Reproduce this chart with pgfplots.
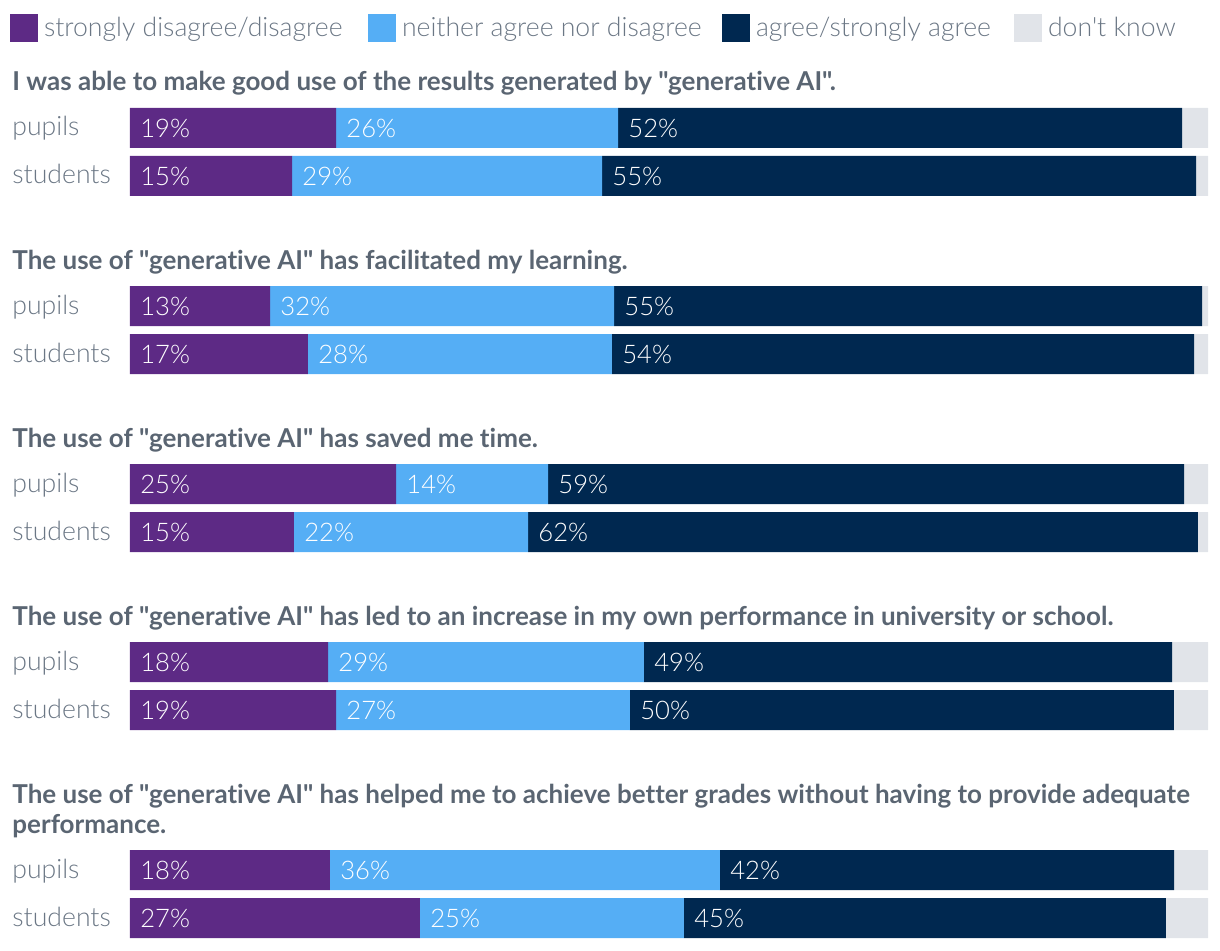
\documentclass[border=0pt]{standalone}
\usepackage{pgfplots}
\pgfplotsset{compat=1.18}
\usepackage{pgfplotstable}
\usepackage{fontspec}
\newfontfamily\regf{Lato Light}[Ligatures=NoCommon]
\newfontfamily\boldf{Lato Bold}[Ligatures=NoCommon]
\definecolor{cSD}{HTML}{5D2A85}
\definecolor{cNE}{HTML}{55AEF5}
\definecolor{cAG}{HTML}{002850}
\definecolor{cDK}{HTML}{E1E4E9}
\definecolor{cTitle}{HTML}{5A6572}
\definecolor{cLab}{HTML}{6B7785}
\pgfplotstableread{
y sd ne ag dk lsd lne lag
-128 19.11 26.16 52.32 2.41 19 26 52
-176 15.03 28.76 55.10 1.11 15 29 55
-306 12.99 31.91 54.55 0.55 13 32 55
-354 16.51 28.20 53.99 1.30 17 28 54
-484 24.68 14.10 59.00 2.22 25 14 59
-532 15.21 21.71 62.15 0.93 15 22 62
-662 18.37 29.31 48.98 3.34 18 29 49
-710 19.11 27.27 50.46 3.16 19 27 50
-870 18.55 36.18 42.12 3.15 18 36 42
-918 26.90 24.49 44.71 3.90 27 25 45
}\datatable
\newcommand\labfont{\regf\fontsize{13.3}{16}\selectfont}
\newcommand\pctfont{\regf\fontsize{12.8}{15}\selectfont}
\newcommand\titfont{\boldf\fontsize{13}{16}\selectfont}
\tikzset{
  ttl/.style={anchor=base west, inner sep=0pt, font=\titfont, text=cTitle},
  grp/.style={anchor=base west, inner sep=0pt, font=\labfont, text=cLab},
}
\pgfplotsset{
  frame/.style={at={(0pt,0pt)}, anchor=south west,
    scale only axis, width=539pt, height=475pt,
    xmin=0, xmax=100, ymin=-950, ymax=0,
    hide axis, clip=false},
  pct/.style={draw=none, mark=none, nodes near coords={\pgfplotspointmeta\%},
    point meta=explicit symbolic,
    every node near coord/.append style={anchor=west, xshift=5pt, inner sep=0pt,
      text=white, font=\pctfont}},
}
\begin{document}
\begin{tikzpicture}
\useasboundingbox (-65pt,0pt) rectangle (545pt,475pt);
\begin{axis}[
  frame,
  xbar stacked, bar width=20pt,
  legend columns=-1,
  legend cell align=left,
  legend image code/.code={\fill[#1] (0pt,-7pt) rectangle (14pt,7pt);},
  legend style={at={(-0.111317,0.970526)}, anchor=west, draw=none, fill=none,
    inner sep=0pt, outer sep=0pt, font=\labfont, text=cLab,
    nodes={inner sep=0pt},
    /tikz/every odd column/.append style={column sep=3pt}},
]
\addplot[draw=none, fill=cSD] table[x=sd, y=y]{\datatable};
\addlegendentry{\makebox[162pt][l]{strongly disagree/disagree}}
\addplot[draw=none, fill=cNE] table[x=ne, y=y]{\datatable};
\addlegendentry{\makebox[160pt][l]{neither agree nor disagree}}
\addplot[draw=none, fill=cAG] table[x=ag, y=y]{\datatable};
\addlegendentry{\makebox[129pt][l]{agree/strongly agree}}
\addplot[draw=none, fill=cDK] table[x=dk, y=y]{\datatable};
\addlegendentry{don't know}

\node[ttl] at (axis cs:-10.946,-91) {I was able to make good use of the results generated by "generative AI".};
\node[ttl] at (axis cs:-10.946,-269) {The use of "generative AI" has facilitated my learning.};
\node[ttl] at (axis cs:-10.946,-447) {The use of "generative AI" has saved me time.};
\node[ttl] at (axis cs:-10.946,-625) {The use of "generative AI" has led to an increase in my own performance in university or school.};
\node[ttl] at (axis cs:-10.946,-803) {The use of "generative AI" has helped me to achieve better grades without having to provide adequate};
\node[ttl] at (axis cs:-10.946,-833) {performance.};
\node[grp] at (axis cs:-10.946,-136) {pupils};
\node[grp] at (axis cs:-10.946,-184) {students};
\node[grp] at (axis cs:-10.946,-314) {pupils};
\node[grp] at (axis cs:-10.946,-362) {students};
\node[grp] at (axis cs:-10.946,-492) {pupils};
\node[grp] at (axis cs:-10.946,-540) {students};
\node[grp] at (axis cs:-10.946,-670) {pupils};
\node[grp] at (axis cs:-10.946,-718) {students};
\node[grp] at (axis cs:-10.946,-878) {pupils};
\node[grp] at (axis cs:-10.946,-926) {students};
\end{axis}
\begin{axis}[frame]
\addplot[pct] table[x expr=0, y=y, meta=lsd]{\datatable};
\addplot[pct] table[x=sd, y=y, meta=lne]{\datatable};
\addplot[pct] table[x expr=\thisrow{sd}+\thisrow{ne}, y=y, meta=lag]{\datatable};
\end{axis}
\end{tikzpicture}
\end{document}
